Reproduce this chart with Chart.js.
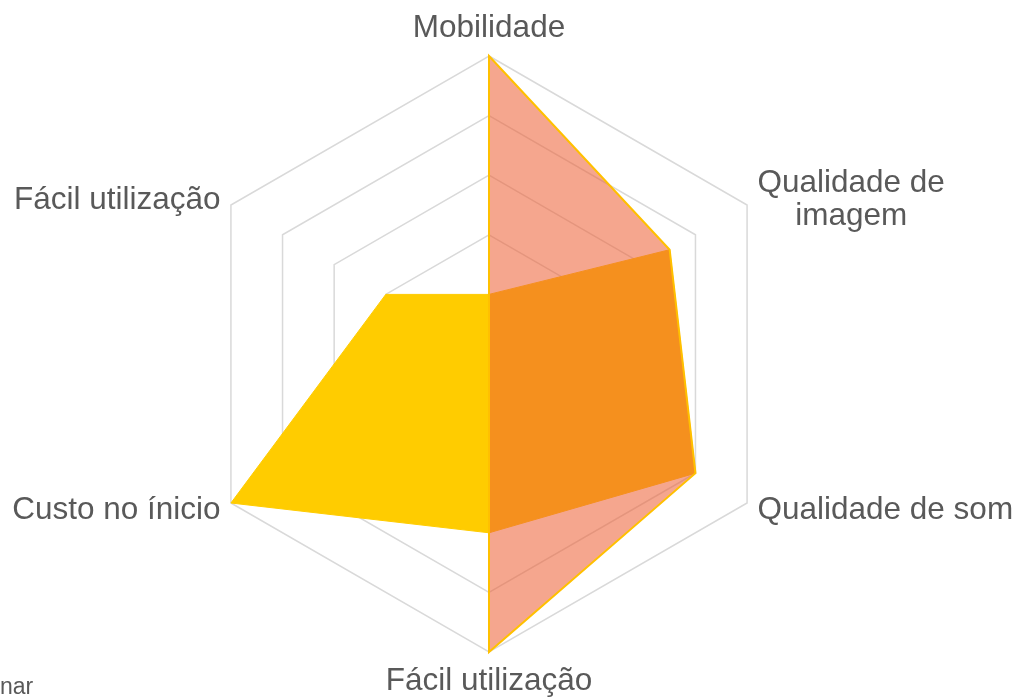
<!DOCTYPE html>
<html>
<head>
<meta charset="utf-8">
<script src="https://cdn.jsdelivr.net/npm/chart.js@4"></script>
<style>
  body { margin: 0; background: #fff; }
  #wrap { position: relative; width: 1020px; height: 700px; overflow: hidden; }
  #corner { position: absolute; left: 0px; top: 673px; font: 23px "Liberation Sans Narrow", "Liberation Sans", Arial, sans-serif; color: #595959; }
</style>
</head>
<body>
<div id="wrap">
  <canvas id="radarCanvas" width="1020" height="700"></canvas>
  <div id="corner">nar</div>
</div>
<script>
  var categories = [["Mobilidade"], ["Qualidade de", "imagem"], ["Qualidade de som"], ["Fácil utilização"], ["Custo no ínicio"], ["Fácil utilização"]];
  var seriesA = [5, 3.5, 4, 5, 0, 0];
  var seriesB = [1, 3.5, 4, 3, 5, 2];
  var scaleTicks = [0, 1, 2, 3, 4, 5];

  var labelFont = '31.5px "Liberation Sans", Arial, sans-serif';
  var labelGap = 12;
  var lineGap = 33;

  // point labels placed like the office chart: sides centred on the vertex
  var sideLabels = {
    id: 'sideLabels',
    afterDraw: function(chart) {
      var scale = chart.scales.r;
      var ctx = chart.ctx;
      ctx.save();
      ctx.font = labelFont;
      ctx.fillStyle = '#595959';
      ctx.textBaseline = 'middle';
      for (var i = 0; i < categories.length; i++) {
        var lines = categories[i];
        var pos = scale.getPointPosition(i, scale.drawingArea + labelGap);
        var deg = Math.round(scale.getIndexAngle(i) * 180 / Math.PI) % 360;
        var w = 0;
        for (var k = 0; k < lines.length; k++) w = Math.max(w, ctx.measureText(lines[k]).width);
        var h = lines.length * lineGap;
        var cx, top;
        if (deg === 0) { cx = pos.x; top = pos.y - h; }
        else if (deg === 180) { cx = pos.x; top = pos.y; }
        else if (deg < 180) { cx = pos.x + w / 2; top = pos.y - h / 2; }
        else { cx = pos.x - w / 2; top = pos.y - h / 2; }
        ctx.textAlign = 'center';
        for (var k = 0; k < lines.length; k++) {
          ctx.fillText(lines[k], cx, top + lineGap * (k + 0.5) + 1);
        }
      }
      ctx.restore();
    }
  };

  var ctx = document.getElementById("radarCanvas").getContext('2d');
  var radarChart = new Chart(ctx, {
    type: 'radar',
    data: {
      labels: categories,
      datasets: [{
        label: 'A',
        data: seriesA,
        fill: true,
        backgroundColor: 'rgba(237,96,53,0.56)',
        borderColor: '#FFC000',
        borderWidth: 2,
        pointRadius: 0
      }, {
        label: 'B',
        data: seriesB,
        fill: true,
        backgroundColor: '#FFCC00',
        borderColor: '#FFCC00',
        borderWidth: 1,
        pointRadius: 0
      }]
    },
    options: {
      responsive: false,
      animation: false,
      layout: { padding: { top: 56, bottom: 48, left: 191, right: 233 } },
      plugins: { legend: { display: false }, tooltip: { enabled: false } },
      elements: { line: { tension: 0 } },
      scales: {
        r: {
          min: scaleTicks[0],
          max: scaleTicks[scaleTicks.length - 1],
          ticks: { display: false, stepSize: 1 },
          grid: { color: '#d9d9d9', lineWidth: 1.5 },
          angleLines: { display: false },
          pointLabels: { display: false }
        }
      }
    },
    plugins: [sideLabels]
  });
</script>
</body>
</html>
